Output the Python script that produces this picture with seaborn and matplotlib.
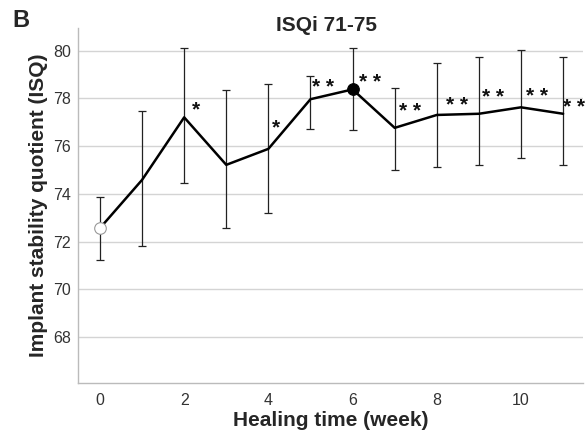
import matplotlib
matplotlib.use("Agg")
import matplotlib.pyplot as plt
import seaborn as sns
import pandas as pd

weeks = [0, 1, 2, 3, 4, 5, 6, 7, 8, 9, 10, 11]
isq_mean = [72.57, 74.59, 77.21, 75.22, 75.89, 77.97, 78.38, 76.77, 77.31, 77.36, 77.63, 77.36]
isq_upper = [73.89, 77.49, 80.10, 78.37, 78.61, 78.95, 80.10, 78.43, 79.47, 79.72, 80.02, 79.72]
isq_lower = [71.24, 71.80, 74.44, 72.59, 73.22, 76.74, 76.69, 75.00, 75.15, 75.21, 75.50, 75.21]
sig_labels = ["", "", "*", "", "*", "* *", "* *", "* *", "* *", "* *", "* *", "* *"]
sig_x = [None, None, 2.28, None, 4.18, 5.30, 6.41, 7.36, 8.48, 9.34, 10.38, 11.26]
sig_y = [None, None, 77.52, None, 76.77, 78.48, 78.69, 77.44, 77.69, 78.06, 78.10, 77.64]
yticks = [68, 70, 72, 74, 76, 78, 80]
xticks = [0, 2, 4, 6, 8, 10]

df = pd.DataFrame({"week": weeks, "isq": isq_mean, "up": isq_upper, "lo": isq_lower})

sns.set_theme(style="white")
plt.rcParams["font.family"] = ["Liberation Sans", "DejaVu Sans"]

fig = plt.figure(figsize=(5.87, 4.38), dpi=100)
ax = fig.add_axes([0.133, 0.125, 0.860, 0.812])

for y in yticks:
    ax.axhline(y, color="#d4d4d4", lw=1.0, zorder=0)

ax.errorbar(df["week"], df["isq"],
            yerr=[df["isq"] - df["lo"], df["up"] - df["isq"]],
            fmt="none", ecolor="#222222", elinewidth=0.9, capsize=2.8, capthick=0.9, zorder=2)

sns.lineplot(data=df, x="week", y="isq", ax=ax, color="black", lw=1.8, zorder=3)

sns.scatterplot(x=[weeks[0]], y=[isq_mean[0]], ax=ax, s=70, color="white",
                edgecolor="#999999", linewidth=0.8, zorder=4)
sns.scatterplot(x=[weeks[6]], y=[isq_mean[6]], ax=ax, s=70, color="black",
                edgecolor="black", linewidth=0.8, zorder=4)

for lab, sx, sy in zip(sig_labels, sig_x, sig_y):
    if lab:
        ax.text(sx, sy, lab, ha="center", va="center", fontsize=15, fontweight="bold",
                color="#111111", clip_on=False)

ax.set_xlim(-0.52, 11.47)
ax.set_ylim(66.07, 80.97)
ax.set_yticks(yticks)
ax.set_xticks(xticks)
ax.tick_params(axis="x", direction="in", length=5, width=0.8, color="#aaaaaa",
               labelsize=11.5, pad=7, labelcolor="#333333")
ax.tick_params(axis="y", length=0, labelsize=11.5, pad=5, labelcolor="#333333")

for s in ["top", "right"]:
    ax.spines[s].set_visible(False)
for s in ["left", "bottom"]:
    ax.spines[s].set_color("#bbbbbb")
    ax.spines[s].set_linewidth(1.0)

ax.set_xlabel("Healing time (week)", fontsize=15, fontweight="bold", labelpad=2)
ax.set_ylabel("Implant stability quotient (ISQ)", fontsize=15, fontweight="bold", labelpad=4)
fig.text(326 / 587, 1 - 31 / 438, "ISQi 71-75", fontsize=15, fontweight="bold",
         ha="center", va="baseline")

fig.text(12 / 587, 1 - 27 / 438, "B", fontsize=17, fontweight="bold", va="baseline", ha="left")

fig.savefig("out.png", dpi=100)
